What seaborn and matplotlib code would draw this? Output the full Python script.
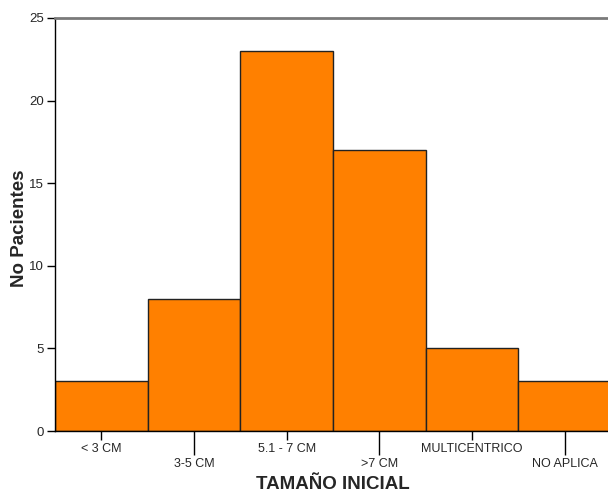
import matplotlib
matplotlib.use("Agg")
import matplotlib.pyplot as plt
import seaborn as sns
import pandas as pd

# data
categorias = ["< 3 CM", "3-5 CM", "5.1 - 7 CM", ">7 CM", "MULTICENTRICO", "NO APLICA"]
pacientes = [3, 8, 23, 17, 5, 3]

sns.set_style("white")
plt.rcParams['font.family'] = ['Liberation Sans', 'DejaVu Sans']

df = pd.DataFrame({"tamano": categorias, "n": pacientes})

fig = plt.figure(figsize=(6.08, 4.96), dpi=100)
ax = fig.add_axes([55 / 608, 1 - 431 / 496, 556 / 608, 413 / 496])

sns.barplot(data=df, x="tamano", y="n", color="#FF8000", saturation=1,
            width=1.0, edgecolor="#222222", linewidth=1.0, ax=ax)

ax.set_xlim(-0.5, 5.5)
ax.set_ylim(0, 25)
ax.set_yticks([0, 5, 10, 15, 20, 25])
ax.set_xticks(range(len(categorias)))
ax.set_xticklabels([c if i % 2 == 0 else "\n" + c for i, c in enumerate(categorias)],
                   linespacing=1.3)

for side in ["left", "bottom"]:
    ax.spines[side].set_color("black")
    ax.spines[side].set_linewidth(1.0)
ax.spines["top"].set_color("#7a7a7a")
ax.spines["top"].set_linewidth(2)
ax.spines["right"].set_visible(False)

ax.tick_params(axis="y", direction="out", length=6, width=1, color="black",
               labelsize=9.5, pad=2, left=True)
ax.tick_params(axis="x", direction="out", length=6.5, width=1, color="black",
               labelsize=9, pad=2, bottom=True)

# staggered x labels: longer tick under the second row
for i, t in enumerate(ax.xaxis.get_major_ticks()):
    if i % 2 == 1:
        t.tick1line.set_markersize(17.5)

ax.set_xlabel("TAMAÑO INICIAL", fontsize=13.5, fontweight="bold", labelpad=5)
ax.set_ylabel("No Pacientes", fontsize=13.5, fontweight="bold")
ax.yaxis.set_label_coords(-0.048, 0.49)

fig.savefig("out.png", dpi=100)
